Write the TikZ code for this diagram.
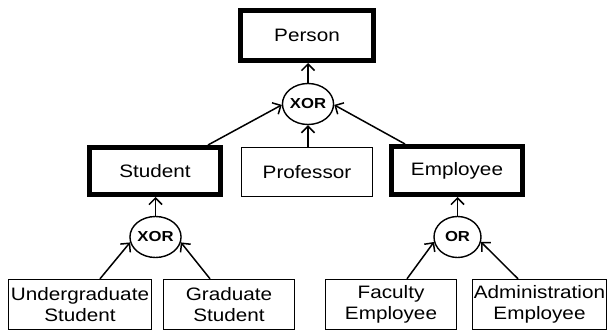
\documentclass[tikz,border=0pt]{standalone}
\usepackage{fontspec}
\setmainfont{Liberation Sans}[FakeStretch=1.15]
\usetikzlibrary{arrows.meta,shapes.geometric,calc}
\tikzset{
  box/.style={draw, line width=1.4pt, inner sep=0pt, align=center,
    font=\fontsize{18}{21}\selectfont},
  thickbox/.style={box, line width=5pt},
  gate/.style={draw, ellipse, line width=1.4pt, inner sep=0pt,
    minimum width=47pt, minimum height=41pt,
    font=\fontsize{14.5}{16}\selectfont\bfseries},
  conn/.style={line width=1.5pt, -{Straight Barb[length=6.5pt,width=13pt,line width=1.5pt]}}
}
\begin{document}
\begin{tikzpicture}[x=1pt,y=-1pt]
\useasboundingbox (0,0) rectangle (610,331);
\node[thickbox, minimum width=133pt, minimum height=50pt] (person) at (307,35.5) {Person};
\node[thickbox, minimum width=131pt, minimum height=47pt] (student) at (155,171) {Student};
\node[box, minimum width=131pt, minimum height=49pt] (prof) at (307,172) {Professor};
\node[thickbox, minimum width=131pt, minimum height=48pt] (emp) at (457,170.5) {Employee};
\node[box, minimum width=143pt, minimum height=50pt] (ug) at (80,304.5) {Undergraduate\\Student};
\node[box, minimum width=131pt, minimum height=50pt] (grad) at (229,304.5) {Graduate\\Student};
\node[box, minimum width=131pt, minimum height=50pt] (fac) at (391,304.5) {Faculty\\Employee};
\node[box, minimum width=134pt, minimum height=50pt] (adm) at (539.5,304.5) {Administration\\Employee};
\node[gate] (g1) at (308,104) {XOR};
\node[gate] (g2) at (155.5,237) {XOR};
\node[gate] (g3) at (457.5,237) {OR};
\coordinate (s1) at ($(student.north)+(53,0)$);
\coordinate (e1) at ($(emp.north)+(-52,0)$);
\coordinate (u1) at ($(ug.north)+(20,0)$);
\coordinate (r1) at ($(grad.north)+(-19,0)$);
\coordinate (f1) at ($(fac.north)+(16,0)$);
\coordinate (a1) at ($(adm.north)+(-21.5,0)$);
\draw[conn] (g1.north) -- (g1.north |- person.south);
\draw[conn] (s1) -- (g1.182);
\draw[conn] (e1) -- (g1.-2);
\draw[conn] (g1.south |- prof.north) -- (g1.south);
\draw[conn] (g2.north) -- (g2.north |- student.south);
\draw[conn] (u1) -- (g2.192);
\draw[conn] (r1) -- (g2.-12);
\draw[conn] (g3.north) -- (g3.north |- emp.south);
\draw[conn] (f1) -- (g3.192);
\draw[conn] (a1) -- (g3.-12);
\end{tikzpicture}
\end{document}
